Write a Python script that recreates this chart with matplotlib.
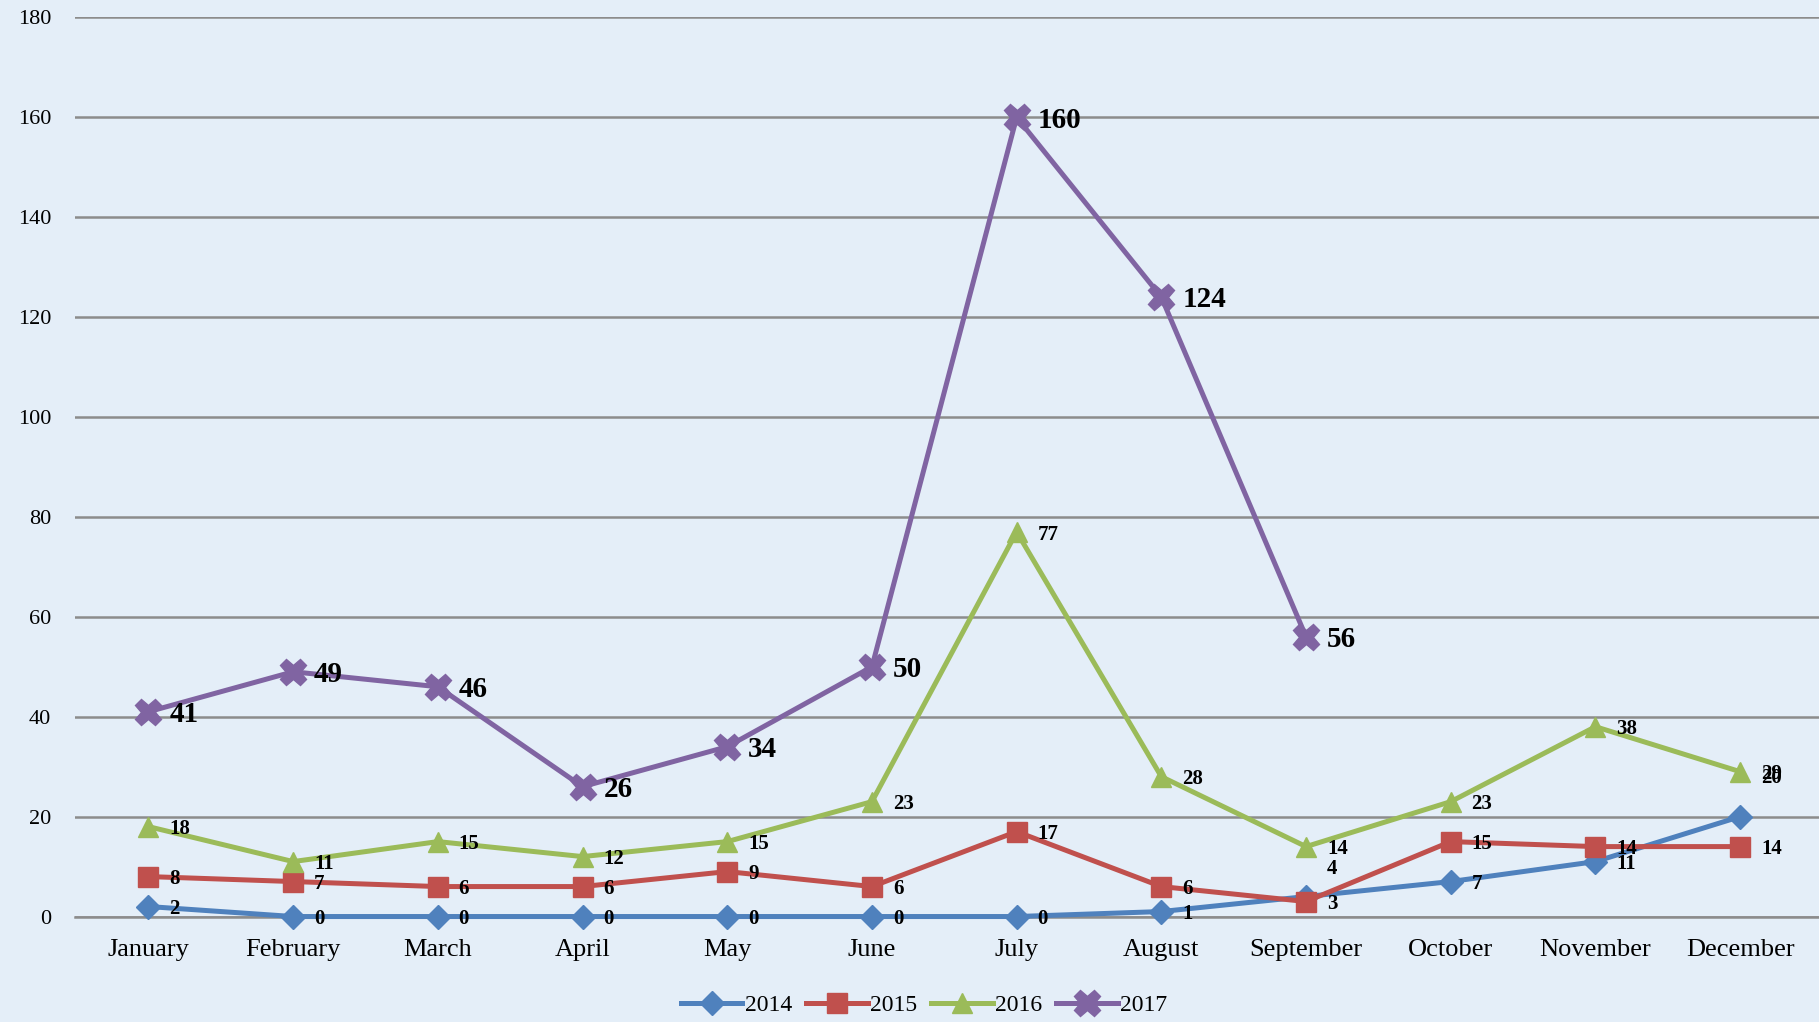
import matplotlib
matplotlib.use("Agg")
import matplotlib.pyplot as plt

months = ['January', 'February', 'March', 'April', 'May', 'June', 'July',
          'August', 'September', 'October', 'November', 'December']
y2014 = [2, 0, 0, 0, 0, 0, 0, 1, 4, 7, 11, 20]
y2015 = [8, 7, 6, 6, 9, 6, 17, 6, 3, 15, 14, 14]
y2016 = [18, 11, 15, 12, 15, 23, 77, 28, 14, 23, 38, 29]
y2017 = [41, 49, 46, 26, 34, 50, 160, 124, 56]

plt.rcParams['font.family'] = ['Liberation Serif', 'DejaVu Serif']
bg = '#E4EEF8'

fig = plt.figure(figsize=(18.19, 10.22), dpi=100, facecolor=bg)
ax = fig.add_axes([0.0412, 0.1032, 0.9588, 0.8798])
ax.set_facecolor(bg)

series = [
    ('2014', y2014, '#4F81BD', 'D', 12, 15),
    ('2015', y2015, '#C0504D', 's', 14, 15),
    ('2016', y2016, '#9BBB59', '^', 15, 15),
    ('2017', y2017, '#8064A2', 'X', 19, 21),
]
# label nudges (series, index) -> vertical shift in points
nudge = {('2014', 8): 20, ('2014', 11): 28}

x = list(range(len(months)))
for name, vals, col, mk, ms, fs in series:
    xs = x[:len(vals)]
    ax.plot(xs, vals, color=col, lw=3.6, marker=mk, markersize=ms,
            markeredgecolor=col, label=name, clip_on=False, zorder=3)
    for xi, v in zip(xs, vals):
        dy = nudge.get((name, xi), -2)
        ax.annotate(str(v), (xi, v), xytext=(15, dy), textcoords='offset points',
                    ha='left', va='center', fontsize=fs, fontweight='bold',
                    color='black', zorder=4, annotation_clip=False)

ax.set_xlim(-0.508, 11.545)
ax.set_ylim(0, 180)
ax.set_yticks(range(0, 181, 20))
ax.set_xticks(x)
ax.set_xticklabels(months, fontsize=19)
ax.tick_params(axis='x', length=0, pad=16)
ax.tick_params(axis='y', length=0, pad=17, labelsize=16)
ax.grid(axis='y', color='#8C8C8C', lw=1.8)
ax.set_axisbelow(True)
for s in ['top', 'right', 'left']:
    ax.spines[s].set_visible(False)
ax.spines['bottom'].set_color('#8C8C8C')
ax.spines['bottom'].set_linewidth(1.8)

leg = fig.legend(loc='center', bbox_to_anchor=(0.508, 0.016), ncol=4, frameon=False,
                 fontsize=17, handlelength=2.6, columnspacing=0.6, handletextpad=0.1)

fig.savefig('out.png', dpi=100, facecolor=bg)
